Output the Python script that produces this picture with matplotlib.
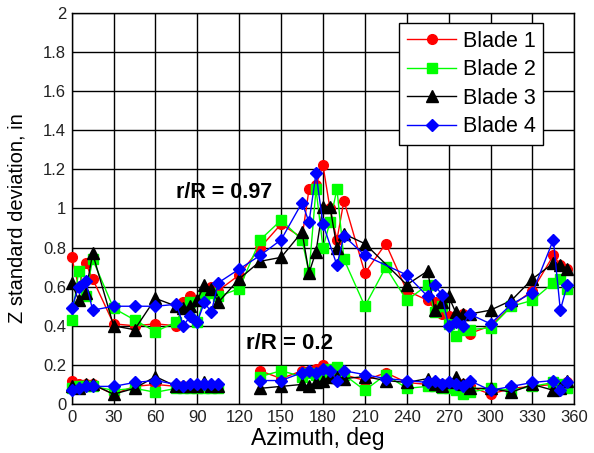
import numpy as np
import matplotlib
matplotlib.use("Agg")
import matplotlib.pyplot as plt

plt.rcParams['font.family'] = ['Liberation Sans', 'DejaVu Sans']

nan = np.nan
# Azimuth positions (deg)
az = [0, 5, 10, 15, 30, 45, 60, 75, 80, 85, 90, 95, 100, 105, 120, 135, 150, 165, 170, 175,
      180, 185, 190, 195, 210, 225, 240, 255, 260, 265, 270, 275, 280, 285, 300, 315, 330, 345, 350, 355]

# r/R = 0.97 (upper group)
blade1_hi = [0.75, 0.60, 0.72, 0.64, 0.41, 0.40, 0.41, 0.40, 0.52, 0.55, 0.53, 0.57, 0.60, 0.58, 0.66, 0.80, 0.92, 0.85, 1.10, 1.12,
             1.22, 1.00, 0.84, 1.04, 0.67, 0.82, 0.58, 0.53, 0.52, 0.46, 0.45, 0.44, 0.46, 0.36, 0.40, 0.50, 0.58, 0.76, 0.71, 0.69]
blade2_hi = [0.43, 0.68, 0.55, 0.74, 0.49, 0.43, 0.37, 0.42, 0.49, 0.52, 0.42, 0.55, 0.57, 0.55, 0.59, 0.84, 0.94, 0.84, 0.67, 1.10,
             0.80, 0.93, 1.10, 0.74, 0.50, 0.70, 0.53, 0.61, 0.47, 0.50, 0.41, 0.35, 0.38, 0.38, 0.39, 0.50, 0.53, 0.62, 0.64, 0.59]
blade3_hi = [0.62, 0.53, 0.57, 0.77, 0.40, 0.38, 0.54, 0.50, 0.49, 0.50, 0.53, 0.61, 0.59, 0.52, 0.64, 0.73, 0.75, 0.88, 0.67, 0.78,
             1.01, 1.01, 0.80, 0.87, 0.82, nan, 0.61, 0.68, 0.48, 0.52, 0.55, 0.47, 0.46, 0.46, 0.48, 0.53, 0.64, 0.72, 0.71, 0.69]
blade4_hi = [0.49, 0.60, 0.63, 0.48, 0.50, 0.50, 0.50, 0.51, 0.40, 0.45, 0.42, 0.52, 0.47, 0.62, 0.69, 0.76, 0.84, 1.03, 0.93, 1.18,
             0.92, nan, 0.71, 0.86, 0.76, nan, 0.66, 0.55, 0.61, 0.56, 0.40, 0.42, 0.40, 0.46, 0.41, 0.51, 0.57, 0.84, 0.48, 0.61]

# r/R = 0.2 (lower group); nan at 120 breaks the line
blade1_lo = [0.12, 0.10, 0.10, 0.10, 0.05, 0.09, 0.10, 0.09, 0.09, 0.09, 0.09, 0.09, 0.09, 0.09, nan, 0.17, 0.13, 0.17, 0.17, 0.18,
             0.20, 0.18, 0.17, 0.15, 0.12, 0.16, 0.11, 0.10, 0.10, 0.10, 0.10, 0.09, 0.10, 0.09, 0.05, 0.08, 0.09, 0.10, 0.09, 0.11]
blade2_lo = [0.08, 0.09, 0.09, 0.09, 0.07, 0.08, 0.06, 0.08, 0.08, 0.08, 0.08, 0.08, 0.08, 0.08, nan, 0.14, 0.17, 0.14, 0.16, 0.15,
             0.16, 0.18, 0.19, 0.15, 0.07, 0.15, 0.08, 0.09, 0.09, 0.08, 0.08, 0.07, 0.05, 0.06, 0.08, 0.07, 0.09, 0.11, 0.10, 0.08]
blade3_lo = [0.09, 0.08, 0.10, 0.10, 0.05, 0.08, 0.14, 0.09, 0.09, 0.09, 0.09, 0.11, 0.09, 0.09, nan, 0.08, 0.09, 0.10, 0.09, 0.11,
             0.12, 0.14, 0.14, 0.13, 0.14, 0.12, 0.11, 0.13, 0.10, 0.09, 0.11, 0.14, 0.10, 0.08, 0.08, 0.06, 0.10, 0.07, 0.08, 0.12]
blade4_lo = [0.07, 0.08, 0.09, 0.09, 0.09, 0.11, 0.12, 0.10, 0.09, 0.10, 0.10, 0.10, 0.10, 0.10, nan, 0.12, 0.12, 0.16, 0.17, 0.16,
             0.18, 0.17, 0.12, 0.17, 0.15, 0.13, 0.12, 0.11, 0.12, 0.10, 0.11, 0.10, 0.09, 0.12, 0.07, 0.09, 0.11, 0.12, 0.07, 0.11]

labels = ['Blade 1', 'Blade 2', 'Blade 3', 'Blade 4']
colors = ['#FF0000', '#00FF00', '#000000', '#0000FF']
markers = ['o', 's', '^', 'D']
msizes = [7, 7, 8, 6]

xticks = list(range(0, 361, 30))
yticks = [0, 0.2, 0.4, 0.6, 0.8, 1, 1.2, 1.4, 1.6, 1.8, 2]
ytick_labels = ['0', '0.2', '0.4', '0.6', '0.8', '1', '1.2', '1.4', '1.6', '1.8', '2']

fig = plt.figure(figsize=(5.94, 4.53), dpi=100)
ax = fig.add_axes([0.1207, 0.1082, 0.8461, 0.8631])

az_arr = np.array(az, dtype=float)
his = [blade1_hi, blade2_hi, blade3_hi, blade4_hi]
los = [blade1_lo, blade2_lo, blade3_lo, blade4_lo]
for hi, lo, lab, c, m, ms in zip(his, los, labels, colors, markers, msizes):
    hi = np.array(hi, dtype=float)
    ok = np.isfinite(hi)
    ax.plot(az_arr[ok], hi[ok], color=c, marker=m, markersize=ms, lw=1.0,
            markeredgecolor=c, label=lab, clip_on=False, zorder=3)
    ax.plot(az_arr, np.array(lo, dtype=float), color=c, marker=m, markersize=ms, lw=1.0,
            markeredgecolor=c, clip_on=False, zorder=3)

ax.set_xlim(0, 360)
ax.set_ylim(0, 2)
ax.set_xticks(xticks)
ax.set_xticklabels([str(t) for t in xticks])
ax.set_yticks(yticks)
ax.set_yticklabels(ytick_labels)
ax.tick_params(axis='both', length=0, labelsize=12, labelcolor='#222222', pad=4)
ax.grid(True, color='black', lw=1.0, zorder=0)
ax.set_axisbelow(True)
for s in ax.spines.values():
    s.set_color('black')
    s.set_linewidth(1.0)

ax.set_xlabel('Azimuth, deg', fontsize=16.5)
ax.xaxis.set_label_coords(0.49, -0.06)
ax.set_ylabel('Z standard deviation, in', fontsize=14.5)
ax.yaxis.set_label_coords(-0.09, 0.476)

ax.text(75, 1.08, 'r/R = 0.97', fontsize=15.5, fontweight='bold', va='center', ha='left', zorder=5)
ax.text(125, 0.31, 'r/R = 0.2', fontsize=16, fontweight='bold', va='center', ha='left', zorder=5)

leg = ax.legend(loc='upper right', bbox_to_anchor=(0.9383, 0.9737), borderaxespad=0, fontsize=15.5,
                frameon=True, fancybox=False, framealpha=1, edgecolor='black',
                handlelength=2.3, borderpad=0.35, labelspacing=0.35, handletextpad=0.3)
leg.get_frame().set_linewidth(1.0)
leg.set_zorder(6)

fig.savefig('out.png', dpi=100)
